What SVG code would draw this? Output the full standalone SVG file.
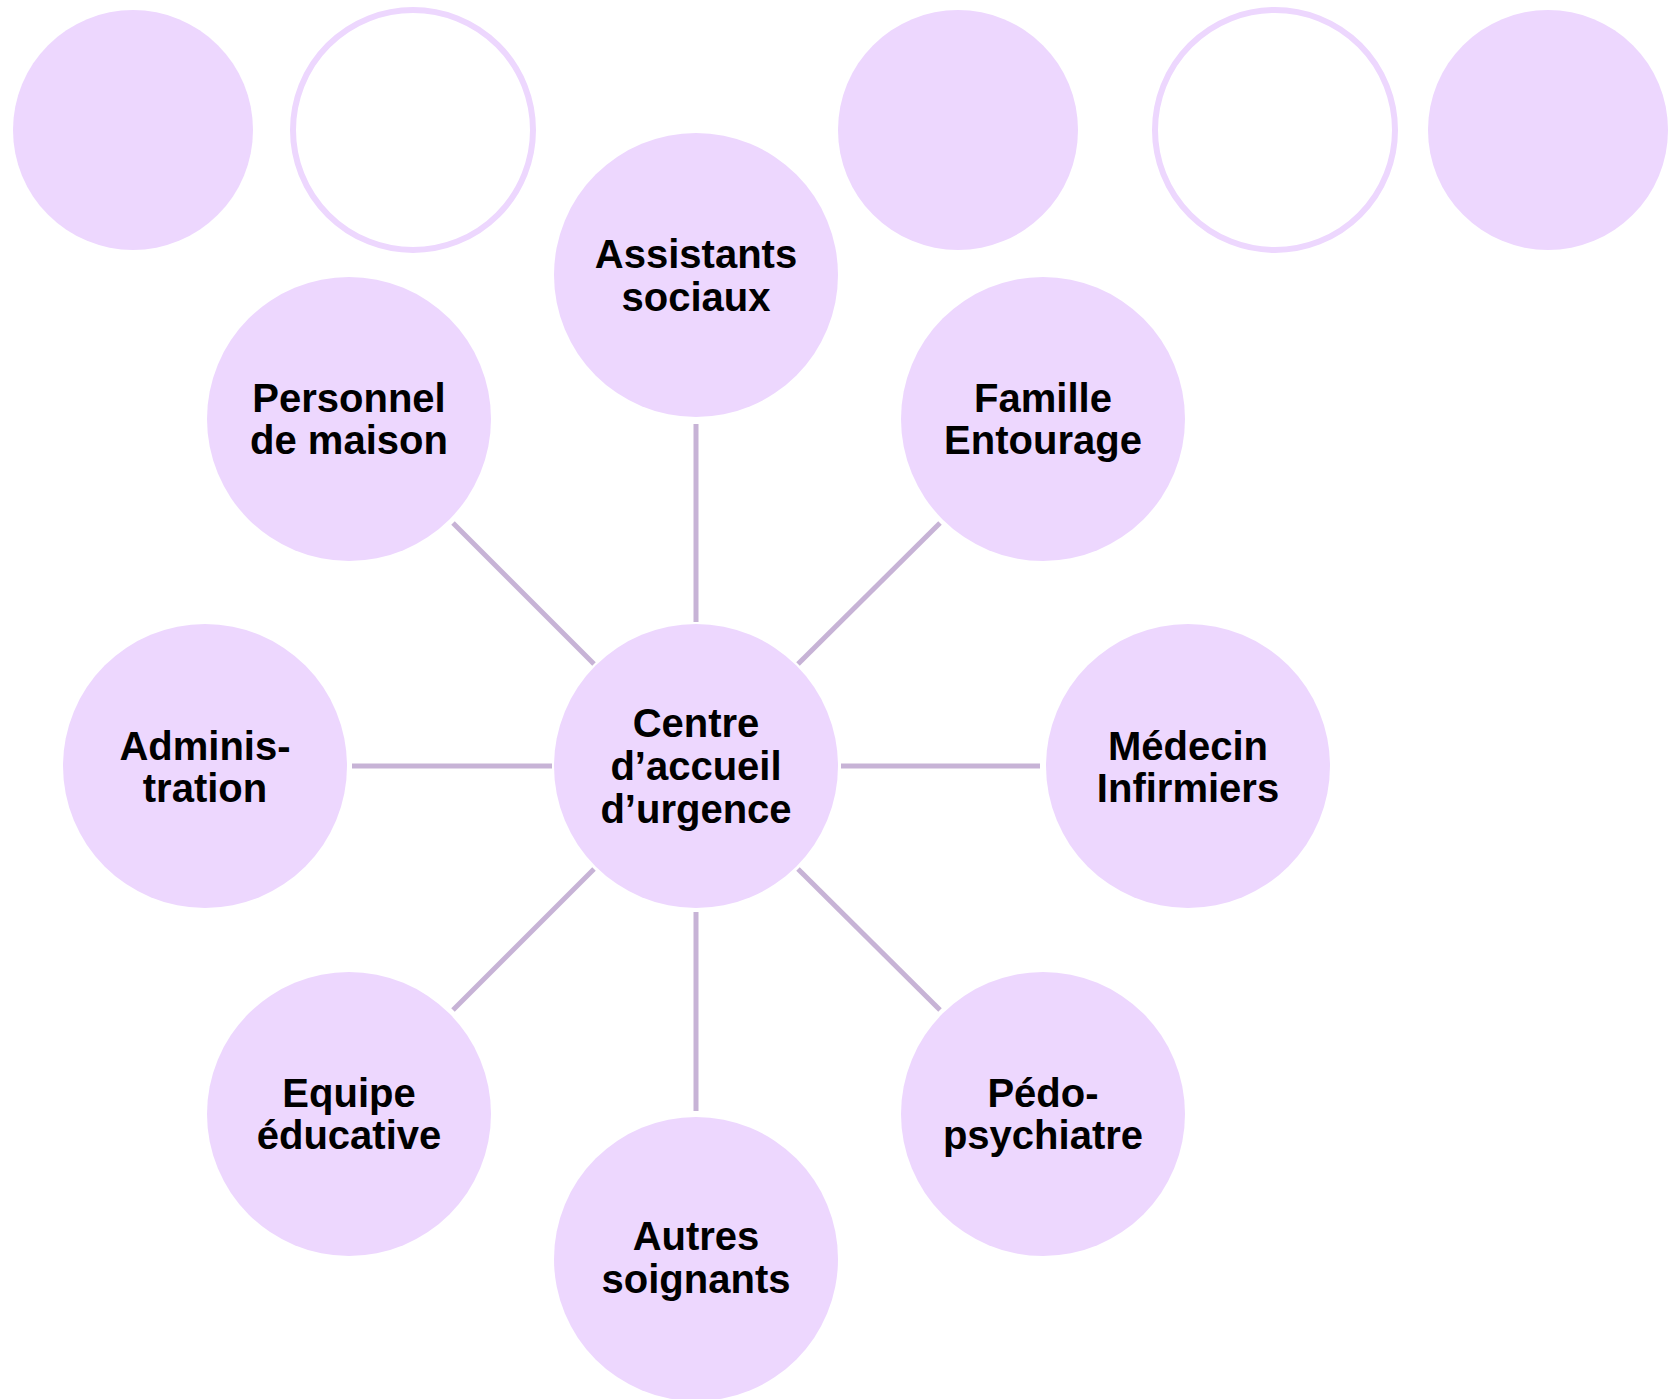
<svg xmlns="http://www.w3.org/2000/svg" width="1673" height="1399" viewBox="0 0 1673 1399">
<style>
.n{fill:#EDD7FE;}
.ring{fill:#FFFFFF;stroke:#EDD7FE;stroke-width:6;}
.c line{stroke:#C7B3D6;stroke-width:5;}
text{font-family:"Liberation Sans",Arial,sans-serif;font-weight:bold;font-size:40px;fill:#000;text-anchor:middle;}
</style>
<rect width="1673" height="1399" fill="#FFFFFF"/>
<g id="deco">
<circle class="n" cx="133" cy="130" r="120"/>
<circle class="ring" cx="413" cy="130" r="120"/>
<circle class="n" cx="958" cy="130" r="120"/>
<circle class="ring" cx="1275" cy="130" r="120"/>
<circle class="n" cx="1548" cy="130" r="120"/>
</g>
<g id="connectors" class="c">
<line x1="696" y1="424" x2="696" y2="622"/>
<line x1="696" y1="912" x2="696" y2="1111"/>
<line x1="352" y1="766" x2="552" y2="766"/>
<line x1="841" y1="766" x2="1040" y2="766"/>
<line x1="453" y1="523" x2="594" y2="664"/>
<line x1="940" y1="523" x2="798" y2="664"/>
<line x1="594" y1="869" x2="453" y2="1010"/>
<line x1="798" y1="869" x2="940" y2="1010"/>
</g>
<g id="assistants"><circle class="n" cx="696" cy="275" r="142"/><text x="696" y="268">Assistants</text><text x="696" y="311">sociaux</text></g>
<g id="personnel"><circle class="n" cx="349" cy="419" r="142"/><text x="349" y="412">Personnel</text><text x="349" y="454">de maison</text></g>
<g id="famille"><circle class="n" cx="1043" cy="419" r="142"/><text x="1043" y="412">Famille</text><text x="1043" y="454">Entourage</text></g>
<g id="administration"><circle class="n" cx="205" cy="766" r="142"/><text x="205" y="760">Adminis-</text><text x="205" y="802">tration</text></g>
<g id="centre"><circle class="n" cx="696" cy="766" r="142"/><text x="696" y="737">Centre</text><text x="696" y="780">d’accueil</text><text x="696" y="823">d’urgence</text></g>
<g id="medecin"><circle class="n" cx="1188" cy="766" r="142"/><text x="1188" y="760">Médecin</text><text x="1188" y="802">Infirmiers</text></g>
<g id="equipe"><circle class="n" cx="349" cy="1114" r="142"/><text x="349" y="1107">Equipe</text><text x="349" y="1149">éducative</text></g>
<g id="pedo"><circle class="n" cx="1043" cy="1114" r="142"/><text x="1043" y="1107">Pédo-</text><text x="1043" y="1149">psychiatre</text></g>
<g id="autres"><circle class="n" cx="696" cy="1259" r="142"/><text x="696" y="1250">Autres</text><text x="696" y="1293">soignants</text></g>
</svg>
